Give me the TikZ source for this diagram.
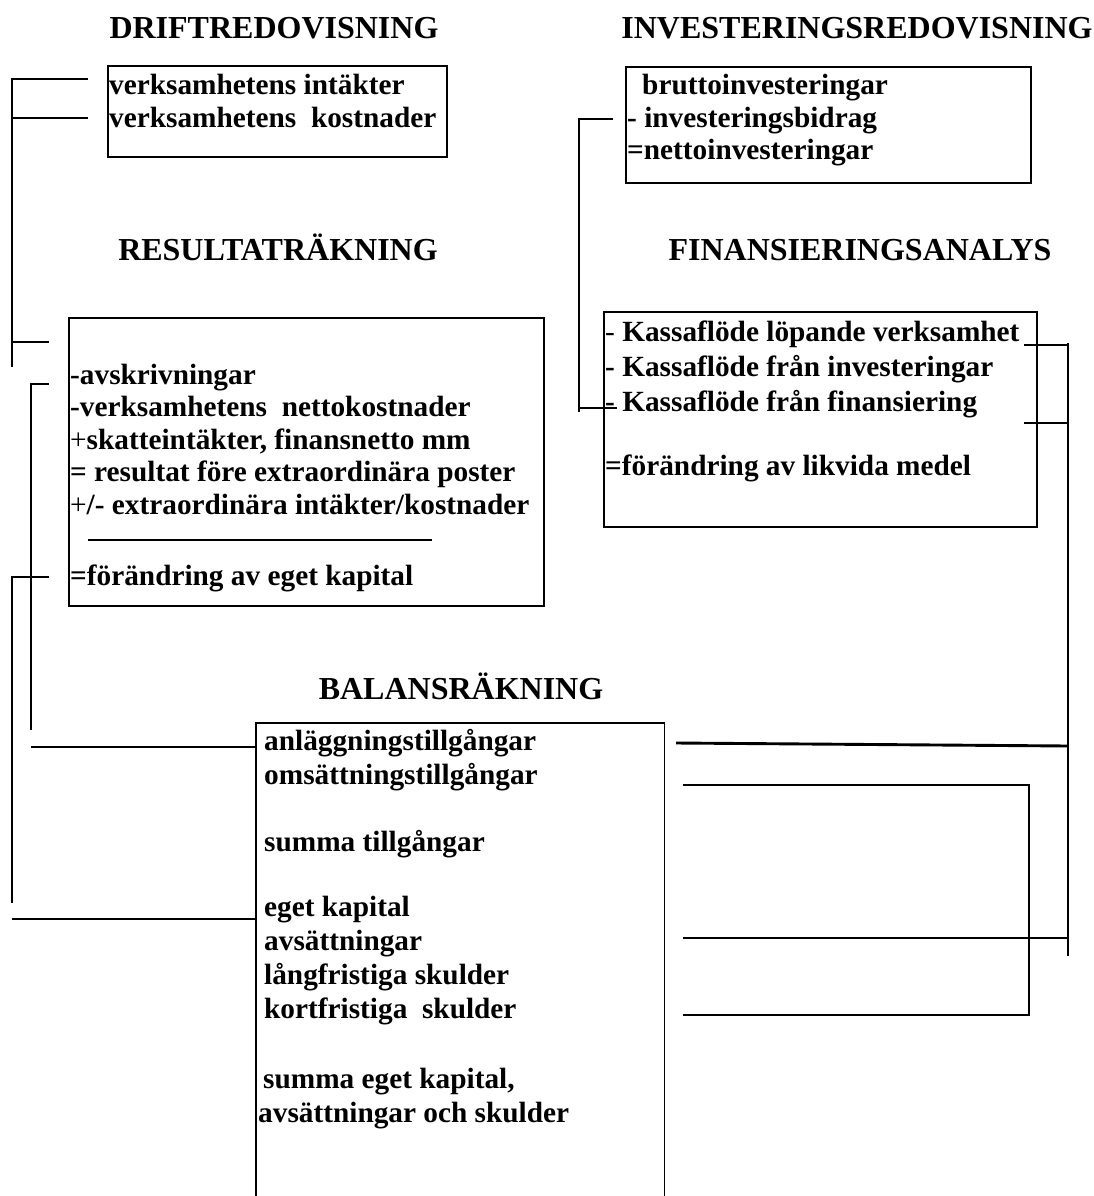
\documentclass[tikz,border=0pt]{standalone}
\usepackage{fontspec}
\setmainfont{Liberation Serif}
\begin{document}
\begin{tikzpicture}[x=1pt,y=-1pt,
  boxst/.style={draw, line width=1.8pt, inner sep=0pt, anchor=north west},
  conn/.style={line width=2.9pt},
  title/.style={font=\fontsize{32}{36}\selectfont\bfseries, anchor=base, inner sep=0pt},
  txt/.style={font=\fontsize{29.3}{33}\selectfont\bfseries, anchor=base west, inner sep=0pt}]
\useasboundingbox (0,0) rectangle (1094,1196);
\fill[white] (0,0) rectangle (1094,1196);

% titles
\node[title] (tdrift) at (274,39) {DRIFTREDOVISNING};
\node[title] (tinv) at (857,39) {INVESTERINGSREDOVISNING};
\node[title] (tres) at (278,260) {RESULTATRÄKNING};
\node[title] (tfin) at (860,260) {FINANSIERINGSANALYS};
\node[title] (tbal) at (461,699) {BALANSRÄKNING};

% boxes
\node[boxst, minimum width=339pt, minimum height=91pt] (drift) at (107,65) {};
\node[boxst, minimum width=405pt, minimum height=116pt] (inv) at (625,66) {};
\node[boxst, minimum width=475pt, minimum height=288pt] (res) at (68,317) {};
\node[boxst, minimum width=433pt, minimum height=215pt] (fin) at (603,311) {};
\node[inner sep=0pt, anchor=north west, minimum width=408pt, minimum height=480pt] (bal) at (256,723) {};
\draw[line width=1.8pt] (bal.south west) -- (bal.north west) -- (bal.north east) -- (bal.south east);

% drift texts
\node[txt] (d1) at (109,95) {verksamhetens intäkter};
\node[txt] (d2) at (109,128) {verksamhetens\ \ kostnader};
% investering texts
\node[txt] (i1) at (642,95) {bruttoinvesteringar};
\node[txt] (i2) at (627,128) {- investeringsbidrag};
\node[txt] (i3) at (627,160) {=nettoinvesteringar};
% resultat texts
\node[txt] (r1) at (70,384) {-avskrivningar};
\node[txt] (r2) at (70,416) {-verksamhetens\ \ nettokostnader};
\node[txt] (r3) at (70,449) {{\mdseries +}skatteintäkter, finansnetto mm};
\node[txt] (r4) at (70,481) {= resultat före extraordinära poster};
\node[txt] (r5) at (70,514) {{\mdseries +}/- extraordinära intäkter/kostnader};
\node[txt] (r6) at (70,585) {=förändring av eget kapital};
\coordinate (rl1) at (88,540);
\coordinate (rl2) at (432,540);
\draw[conn] (rl1) -- (rl2);
% finansiering texts
\node[txt] (f1) at (605,341) {{\mdseries -} Kassaflöde löpande verksamhet};
\node[txt] (f2) at (605,376) {- Kassaflöde från investeringar};
\node[txt] (f3) at (605,411) {- Kassaflöde från finansiering};
\node[txt] (f4) at (605,475) {=förändring av likvida medel};
% balans texts
\node[txt] (b1) at (264,750) {anläggningstillgångar};
\node[txt] (b2) at (264,784) {omsättningstillgångar};
\node[txt] (b3) at (264,851) {summa tillgångar};
\node[txt] (b4) at (264,916) {eget kapital};
\node[txt] (b5) at (264,950) {avsättningar};
\node[txt] (b6) at (264,984) {långfristiga skulder};
\node[txt] (b7) at (264,1018) {kortfristiga\ \ skulder};
\node[txt] (b8) at (263,1088) {summa eget kapital,};
\node[txt] (b9) at (258,1122) {avsättningar och skulder};

% connector coordinates
\coordinate (a1) at (88,79);
\coordinate (a2) at (88,118);
\coordinate (a3) at (49,342);
\coordinate (ak) at (12,79);
\coordinate (ab) at (12,367);
\draw[conn] (a1) -- (ak) -- (ab);
\draw[conn] (a2) -- (a2 -| ak);
\draw[conn] (a3) -- (a3 -| ak);

\coordinate (bb1) at (49,384);
\coordinate (bbk) at (31,384);
\coordinate (bbe) at (31,730);
\draw[conn] (bb1) -- (bbk) -- (bbe);
\coordinate (bb2) at (31,747);
\draw[conn] (bb2) -- (bb2 -| bal.west);

\coordinate (c1) at (49,577);
\coordinate (ck) at (12,577);
\coordinate (ce) at (12,903);
\draw[conn] (c1) -- (ck) -- (ce);
\coordinate (c2) at (12,919);
\draw[conn] (c2) -- (c2 -| bal.west);

\coordinate (e1) at (613,119);
\coordinate (ek) at (579,119);
\coordinate (ee) at (579,412);
\coordinate (e2) at (579,408);
\coordinate (e3) at (617,408);
\draw[conn] (e1) -- (ek) -- (ee);
\draw[conn] (e2) -- (e3);

\coordinate (g1) at (1024,345);
\coordinate (g2) at (1024,423);
\coordinate (gt) at (1068,343);
\coordinate (gb) at (1068,956);
\draw[conn] (gt) -- (gb);
\draw[conn] (g1) -- (g1 -| gt);
\draw[conn] (g2) -- (g2 -| gt);
\coordinate (g3) at (676,743);
\coordinate (g3e) at (1068,746);
\draw[conn] (g3) -- (g3e);
\coordinate (g4) at (683,938);
\draw[conn] (g4) -- (g4 -| gt);

\coordinate (h1) at (683,785);
\coordinate (hk1) at (1029,785);
\coordinate (hk2) at (1029,1015);
\coordinate (h2) at (683,1015);
\draw[conn] (h1) -- (hk1) -- (hk2) -- (h2);
\end{tikzpicture}
\end{document}
